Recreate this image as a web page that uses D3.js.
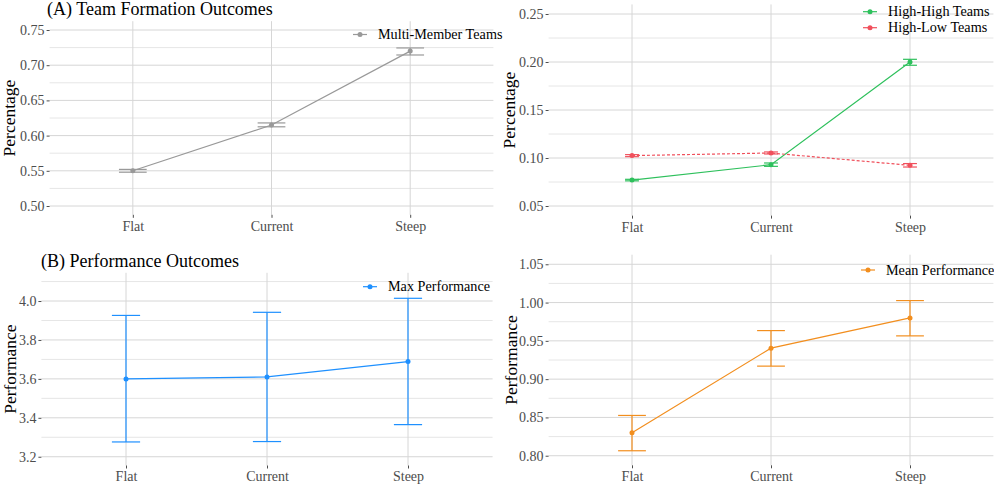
<!DOCTYPE html>
<html><head><meta charset="utf-8">
<script src="https://cdn.jsdelivr.net/npm/d3@7"></script>
<style>
body{margin:0;background:#fff}
svg{display:block;font-family:"Liberation Serif","Times New Roman",serif}
</style>
</head><body>
<svg id="chart" width="994" height="484"></svg>
<script>
// ---------- DATA ----------
const categories = ["Flat", "Current", "Steep"];

// (A) Team formation: multi-member teams
const multiMean = [0.550, 0.615, 0.720];
const multiLow  = [0.548, 0.6125, 0.7145];
const multiHigh = [0.552, 0.618, 0.7245];
const ticksA = [0.50, 0.55, 0.60, 0.65, 0.70, 0.75];

// (A, right) High-High / High-Low teams
const hhMean = [0.077, 0.093, 0.200];
const hhLow  = [0.0762, 0.0913, 0.1966];
const hhHigh = [0.0778, 0.0948, 0.2028];
const hlMean = [0.1025, 0.1052, 0.0924];
const hlLow  = [0.1014, 0.1042, 0.0906];
const hlHigh = [0.1035, 0.1063, 0.0942];
const ticksTR = [0.05, 0.10, 0.15, 0.20, 0.25];

// (B) Max performance
const maxMean = [3.600, 3.610, 3.689];
const maxLow  = [3.276, 3.278, 3.365];
const maxHigh = [3.926, 3.942, 4.014];
const ticksB = [3.2, 3.4, 3.6, 3.8, 4.0];

// (B, right) Mean performance
const meanMean = [0.830, 0.9405, 0.980];
const meanLow  = [0.8065, 0.917, 0.9565];
const meanHigh = [0.8526, 0.9634, 1.0026];
const ticksD = [0.80, 0.85, 0.90, 0.95, 1.00, 1.05];

// ---------- DRAWING ----------
const FONT = '"Liberation Serif","Times New Roman",serif';
const svg = d3.select("#chart");

function series(name, mean, low, high, color, dash) {
  return { name, color, dash, pts: categories.map((c, i) => ({ c, v: mean[i], lo: low[i], hi: high[i] })) };
}

function drawPanel(cfg) {
  const g = svg.append("g");
  const x = d3.scalePoint().domain(categories).range([cfg.x0, cfg.x1]).padding(0.6);
  const y = d3.scaleLinear().domain(cfg.domain).range([cfg.y1, cfg.y0]);

  // minor gridlines
  const t = cfg.ticks, step = t[1] - t[0];
  const minors = [];
  for (let v = t[0] - step / 2; v <= cfg.domain[1]; v += step) if (v >= cfg.domain[0]) minors.push(v);
  g.selectAll(".minor").data(minors).join("line")
    .attr("x1", cfg.x0).attr("x2", cfg.x1)
    .attr("y1", d => y(d)).attr("y2", d => y(d))
    .attr("stroke", "#e6e6e6").attr("stroke-width", 1);
  // major gridlines
  g.selectAll(".major").data(t).join("line")
    .attr("x1", cfg.x0).attr("x2", cfg.x1)
    .attr("y1", d => y(d)).attr("y2", d => y(d))
    .attr("stroke", "#d6d6d6").attr("stroke-width", 1);
  g.selectAll(".vmajor").data(categories).join("line")
    .attr("x1", d => x(d)).attr("x2", d => x(d))
    .attr("y1", cfg.y0).attr("y2", cfg.y1)
    .attr("stroke", "#d6d6d6").attr("stroke-width", 1);

  // y axis
  const yAxis = d3.axisLeft(y).tickValues(t).tickFormat(d3.format(cfg.fmt)).tickSize(3).tickPadding(2);
  const ya = g.append("g").attr("transform", `translate(${cfg.x0},0)`).call(yAxis)
    .attr("font-family", FONT).attr("font-size", 14);
  ya.select(".domain").remove();
  ya.selectAll("line").attr("stroke", "#4d4d4d");
  ya.selectAll("text").attr("fill", "#4d4d4d");

  // x axis
  const xAxis = d3.axisBottom(x).tickSize(3).tickPadding(3);
  const xa = g.append("g").attr("transform", `translate(0,${cfg.y1})`).call(xAxis)
    .attr("font-family", FONT).attr("font-size", 14);
  xa.select(".domain").remove();
  xa.selectAll("line").attr("stroke", "#4d4d4d");
  xa.selectAll("text").attr("fill", "#4d4d4d");

  // y title
  g.append("text")
    .attr("transform", `translate(${cfg.yTitleX},${(cfg.y0 + cfg.y1) / 2}) rotate(-90)`)
    .attr("text-anchor", "middle").attr("font-family", FONT).attr("font-size", 17.5).attr("fill", "#000")
    .text(cfg.yTitle);

  // panel title
  if (cfg.title) {
    g.append("text").attr("x", cfg.titleX).attr("y", cfg.titleY)
      .attr("font-family", FONT).attr("font-size", 18).attr("fill", "#000").text(cfg.title);
  }

  const ew = cfg.ebWidth * x.step() / 2;
  const line = d3.line().x(d => x(d.c)).y(d => y(d.v));

  cfg.series.forEach(s => {
    const sg = g.append("g");
    // error bars
    const eb = sg.selectAll(".eb").data(s.pts).join("g");
    eb.append("line").attr("x1", d => x(d.c)).attr("x2", d => x(d.c))
      .attr("y1", d => y(d.lo)).attr("y2", d => y(d.hi))
      .attr("stroke", s.color).attr("stroke-width", 1.2);
    eb.append("line").attr("x1", d => x(d.c) - ew).attr("x2", d => x(d.c) + ew)
      .attr("y1", d => y(d.lo)).attr("y2", d => y(d.lo))
      .attr("stroke", s.color).attr("stroke-width", 1.2);
    eb.append("line").attr("x1", d => x(d.c) - ew).attr("x2", d => x(d.c) + ew)
      .attr("y1", d => y(d.hi)).attr("y2", d => y(d.hi))
      .attr("stroke", s.color).attr("stroke-width", 1.2);
    // line
    sg.append("path").datum(s.pts).attr("d", line)
      .attr("fill", "none").attr("stroke", s.color).attr("stroke-width", 1.2)
      .attr("stroke-dasharray", s.dash || null);
    // points
    sg.selectAll("circle").data(s.pts).join("circle")
      .attr("cx", d => x(d.c)).attr("cy", d => y(d.v)).attr("r", 2.5)
      .attr("fill", s.color);
  });

  // legend
  cfg.series.forEach((s, i) => {
    const ly = cfg.legendY + i * cfg.legendGap;
    const lg = g.append("g");
    lg.append("line").attr("x1", cfg.legendX).attr("x2", cfg.legendX + 14)
      .attr("y1", ly).attr("y2", ly).attr("stroke", s.color).attr("stroke-width", 1.2);
    lg.append("circle").attr("cx", cfg.legendX + 7).attr("cy", ly).attr("r", 2.5).attr("fill", s.color);
    lg.append("text").attr("x", cfg.legendX + 25).attr("y", ly).attr("dy", "0.33em")
      .attr("font-family", FONT).attr("font-size", 14.2).attr("fill", "#000").text(s.name);
  });
}

drawPanel({
  x0: 49.6, x1: 493.4, y0: 21.2, y1: 214.8, domain: [0.4875, 0.7625],
  ticks: ticksA, fmt: ".2f", yTitle: "Percentage", yTitleX: 14.5,
  title: "(A) Team Formation Outcomes", titleX: 47, titleY: 15,
  ebWidth: 0.2, legendX: 353, legendY: 34.5, legendGap: 16,
  series: [series("Multi-Member Teams", multiMean, multiLow, multiHigh, "#999999")]
});

drawPanel({
  x0: 548.6, x1: 993.4, y0: 4.4, y1: 215.6, domain: [0.04, 0.26],
  ticks: ticksTR, fmt: ".2f", yTitle: "Percentage", yTitleX: 515,
  ebWidth: 0.1, legendX: 863, legendY: 11.7, legendGap: 16,
  series: [
    series("High-High Teams", hhMean, hhLow, hhHigh, "#2ec05c"),
    series("High-Low Teams", hlMean, hlLow, hlHigh, "#f0505c", "3,2")
  ]
});

drawPanel({
  x0: 41.4, x1: 492.6, y0: 272.8, y1: 465.5, domain: [3.155, 4.145],
  ticks: ticksB, fmt: ".1f", yTitle: "Performance", yTitleX: 16,
  title: "(B) Performance Outcomes", titleX: 41, titleY: 266.5,
  ebWidth: 0.2, legendX: 363, legendY: 286.7, legendGap: 16,
  series: [series("Max Performance", maxMean, maxLow, maxHigh, "#1e90ff")]
});

drawPanel({
  x0: 548.6, x1: 993.4, y0: 254.7, y1: 465.3, domain: [0.7875, 1.0625],
  ticks: ticksD, fmt: ".2f", yTitle: "Performance", yTitleX: 517,
  ebWidth: 0.2, legendX: 861, legendY: 270, legendGap: 16,
  series: [series("Mean Performance", meanMean, meanLow, meanHigh, "#f28e1e")]
});
</script>
</body></html>
